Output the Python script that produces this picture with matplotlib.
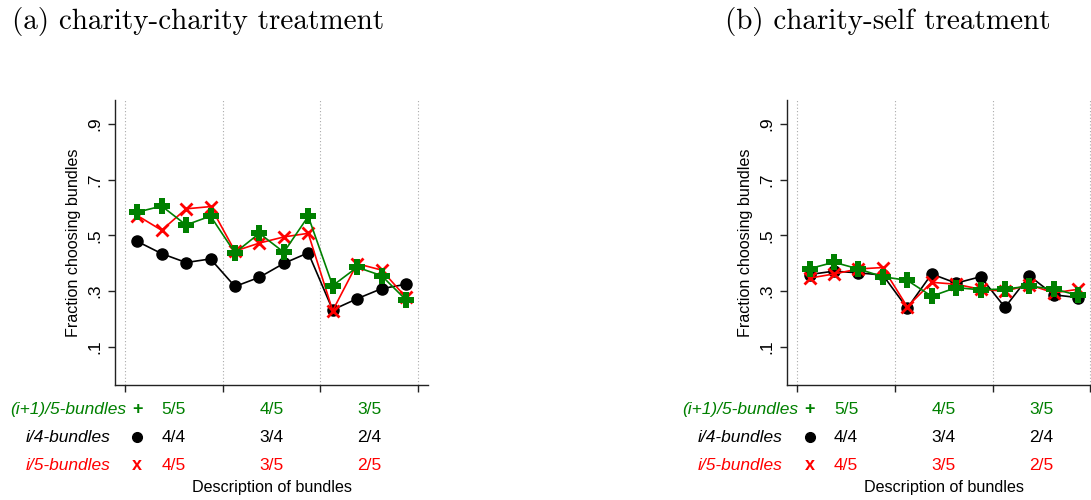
import matplotlib
matplotlib.use("Agg")
import matplotlib.pyplot as plt
import numpy as np

# ---------------- data ----------------
panel_titles = ["(a) charity-charity treatment", "(b) charity-self treatment"]
group_top = ["5/5", "4/5", "3/5"]
group_mid = ["4/4", "3/4", "2/4"]
group_bot = ["4/5", "3/5", "2/5"]
series_names = ["(i+1)/5-bundles", "i/4-bundles", "i/5-bundles"]
yticks = [0.1, 0.3, 0.5, 0.7, 0.9]
ytick_labels = [".1", ".3", ".5", ".7", ".9"]

cc_plus = [0.583, 0.605, 0.537, 0.569, 0.437, 0.507, 0.439, 0.568, 0.319, 0.385, 0.355, 0.268]
cc_i4 = [0.478, 0.434, 0.402, 0.415, 0.316, 0.349, 0.399, 0.437, 0.232, 0.272, 0.308, 0.324]
cc_i5 = [0.571, 0.518, 0.595, 0.603, 0.443, 0.472, 0.494, 0.507, 0.229, 0.398, 0.375, 0.277]

cs_plus = [0.380, 0.403, 0.379, 0.351, 0.338, 0.281, 0.312, 0.304, 0.307, 0.317, 0.307, 0.284]
cs_i4 = [0.359, 0.371, 0.365, 0.357, 0.238, 0.361, 0.328, 0.351, 0.241, 0.354, 0.286, 0.276]
cs_i5 = [0.346, 0.361, 0.379, 0.384, 0.243, 0.331, 0.324, 0.306, 0.299, 0.322, 0.293, 0.306]

GREEN = "#008000"
BLACK = "#000000"
RED = "#ff0000"

panels = [(cc_plus, cc_i4, cc_i5), (cs_plus, cs_i4, cs_i5)]

fig = plt.figure(figsize=(10.91, 5.0), dpi=100)
sans = "Liberation Sans"

ax_lefts = [115 / 1091, 787.3 / 1091]
ax_w = 312.7 / 1091
ax_b = 1 - 385 / 500
ax_h = 285 / 500

x = np.arange(12) + 0.5

for k, (plus, i4, i5) in enumerate(panels):
    ax = fig.add_axes([ax_lefts[k], ax_b, ax_w, ax_h])
    ax.set_xlim(-0.41, 12.39)
    ax.set_ylim(-0.038, 0.986)
    for s in ["top", "right"]:
        ax.spines[s].set_visible(False)
    for s in ["left", "bottom"]:
        ax.spines[s].set_color("#222222")
        ax.spines[s].set_linewidth(1.0)
    for gx in [0, 4, 8, 12]:
        ax.axvline(gx, color="#aaaaaa", linestyle=(0, (1, 2)), linewidth=0.8, zorder=0)

    ax.plot(x, i4, color=BLACK, lw=1.2, marker="o", ms=8, zorder=3)
    ax.plot(x, i5, color=RED, lw=1.2, marker="x", ms=9, mew=2.0, zorder=4)
    ax.plot(x, plus, color=GREEN, lw=1.2, marker="P", ms=11, mew=0, zorder=5)

    ax.set_xticks([0, 4, 8, 12])
    ax.set_xticklabels([])
    ax.tick_params(axis="x", length=5, width=1, color="#222222")
    ax.set_yticks(yticks)
    ax.set_yticklabels(ytick_labels, rotation=90, va="center", fontsize=12.5, family=sans)
    ax.tick_params(axis="y", length=5, width=1, color="#222222", pad=4)
    ax.set_ylabel("Fraction choosing bundles", fontsize=11.6, family=sans, labelpad=5)

    # bottom description rows
    trans = ax.get_xaxis_transform()
    row_y = [-0.085, -0.183, -0.283]
    row_cols = [GREEN, BLACK, RED]
    row_texts = [group_top, group_mid, group_bot]
    for r in range(3):
        for g in range(3):
            ax.text(g * 4 + 2, row_y[r], row_texts[r][g], transform=trans, ha="center",
                    va="center", fontsize=12.5, color=row_cols[r], family=sans, clip_on=False)
    # legend-like labels on the left
    name_right = [0.05, -0.6, -0.6]
    for r in range(3):
        ax.text(name_right[r], row_y[r], series_names[r], transform=trans, ha="right",
                va="center", fontsize=12.5, color=row_cols[r], family=sans, style="italic",
                clip_on=False)
    mx = 0.5
    ax.text(mx, row_y[0], "+", transform=trans, ha="center", va="center", fontsize=13,
            fontweight="bold", color=GREEN, family=sans, clip_on=False)
    ax.plot([mx], [row_y[1]], transform=trans, marker="o", ms=7, color=BLACK, clip_on=False)
    ax.text(mx, row_y[2], "x", transform=trans, ha="center", va="center", fontsize=13,
            fontweight="bold", color=RED, family=sans, clip_on=False)
    ax.text(6.0, -0.36, "Description of bundles", transform=trans, ha="center", va="center",
            fontsize=11.6, color=BLACK, family=sans, clip_on=False)

fig.text(12 / 1091, 1 - 21 / 500, panel_titles[0], fontsize=21, family="cmr10",
         ha="left", va="center")
fig.text(725 / 1091, 1 - 21 / 500, panel_titles[1], fontsize=21, family="cmr10",
         ha="left", va="center")

fig.savefig("out.png", dpi=100)
